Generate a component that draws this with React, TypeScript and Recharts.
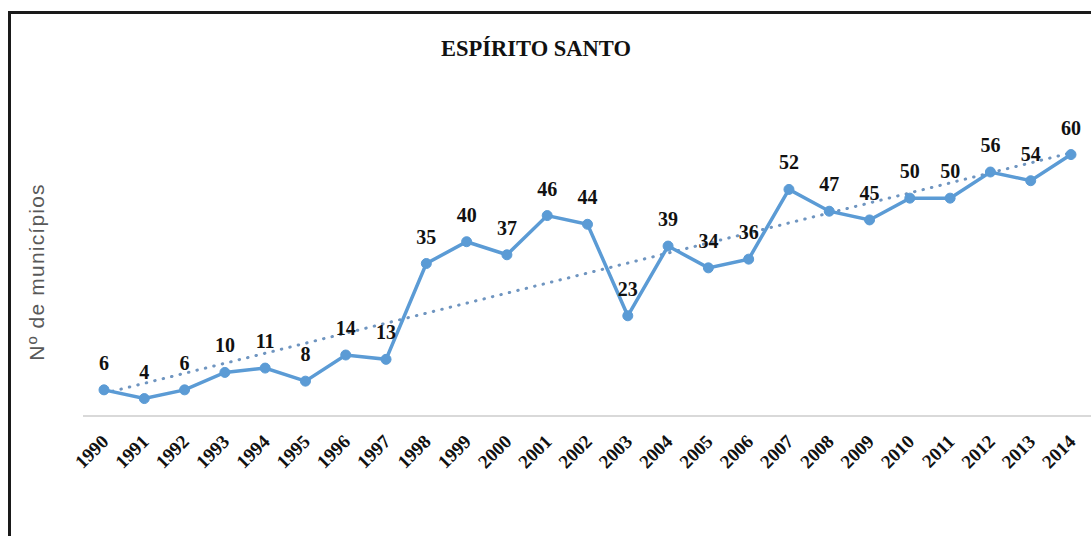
import React from 'react';
import { LineChart, Line, XAxis, YAxis, LabelList } from 'recharts';

const years = ['1990','1991','1992','1993','1994','1995','1996','1997','1998','1999','2000','2001','2002','2003','2004','2005','2006','2007','2008','2009','2010','2011','2012','2013','2014'];
const municipios = [6,4,6,10,11,8,14,13,35,40,37,46,44,23,39,34,36,52,47,45,50,50,56,54,60];
const trendStart = 5.2;
const trendEnd = 60.4;
const title = 'ESPÍRITO SANTO';
const yLabel = 'Nº de municípios';

const data = years.map((year, i) => ({
  year,
  value: municipios[i],
  trend: i === 0 ? trendStart : i === years.length - 1 ? trendEnd : null,
}));

const serif = '"Liberation Serif", "Times New Roman", serif';

const Tick = (props: any) => {
  const { x, y, payload } = props;
  const ax = x + 1;
  const ay = y + 14;
  return (
    <text
      x={ax}
      y={ay}
      dy="0.35em"
      transform={`rotate(-45 ${ax} ${ay})`}
      textAnchor="end"
      fontFamily={serif}
      fontWeight="bold"
      fontSize={19}
      fill="#111"
    >
      {payload.value}
    </text>
  );
};

const ValueLabel = (props: any) => {
  const { x, y, value } = props;
  return (
    <text x={x} y={y - 20} textAnchor="middle" fontFamily={serif} fontWeight="bold" fontSize={20} fill="#111">
      {value}
    </text>
  );
};

export default function App() {
  return (
    <div style={{ position: 'relative', width: 1091, height: 536, overflow: 'hidden', background: '#fff' }}>
      <style>{`body{margin:0;overflow:hidden;}`}</style>
      <div
        style={{
          position: 'absolute',
          left: 8,
          top: 11,
          width: 1100,
          height: 540,
          borderLeft: '3px solid #1a1a1a',
          borderTop: '3px solid #1a1a1a',
        }}
      />
      <div
        style={{
          position: 'absolute',
          left: 0,
          width: 1072,
          top: 36,
          textAlign: 'center',
          fontFamily: serif,
          fontWeight: 'bold',
          fontSize: 22.5,
          color: '#111',
          lineHeight: '26px',
        }}
      >
        {title}
      </div>
      <div
        style={{
          position: 'absolute',
          left: 37,
          top: 272,
          transform: 'translate(-50%, -50%) rotate(-90deg)',
          whiteSpace: 'nowrap',
          fontFamily: '"Liberation Sans", Arial, sans-serif',
          fontSize: 21,
          letterSpacing: 1.2,
          color: '#595959',
          lineHeight: '24px',
        }}
      >
        {yLabel}
      </div>
      <div style={{ position: 'absolute', left: 0, top: 0 }}>
        <LineChart width={1091} height={536} data={data} margin={{ top: 111, right: 0, bottom: 60, left: 83 }}>
          <XAxis
            dataKey="year"
            height={60}
            padding={{ left: 21, right: 20 }}
            axisLine={{ stroke: '#d9d9d9', strokeWidth: 2 }}
            tickLine={false}
            tick={<Tick />}
            interval={0}
          />
          <YAxis hide domain={[0, 70]} />
          <Line
            dataKey="trend"
            connectNulls
            stroke="#6f95c0"
            strokeWidth={3}
            strokeDasharray="0.5 8.2"
            strokeLinecap="round"
            dot={false}
            activeDot={false}
            isAnimationActive={false}
          />
          <Line
            dataKey="value"
            stroke="#5b9bd5"
            strokeWidth={3.5}
            dot={{ r: 5, fill: '#5b9bd5', stroke: '#5b9bd5', strokeWidth: 1 }}
            activeDot={false}
            isAnimationActive={false}
          >
            <LabelList dataKey="value" content={<ValueLabel />} />
          </Line>
        </LineChart>
      </div>
    </div>
  );
}
